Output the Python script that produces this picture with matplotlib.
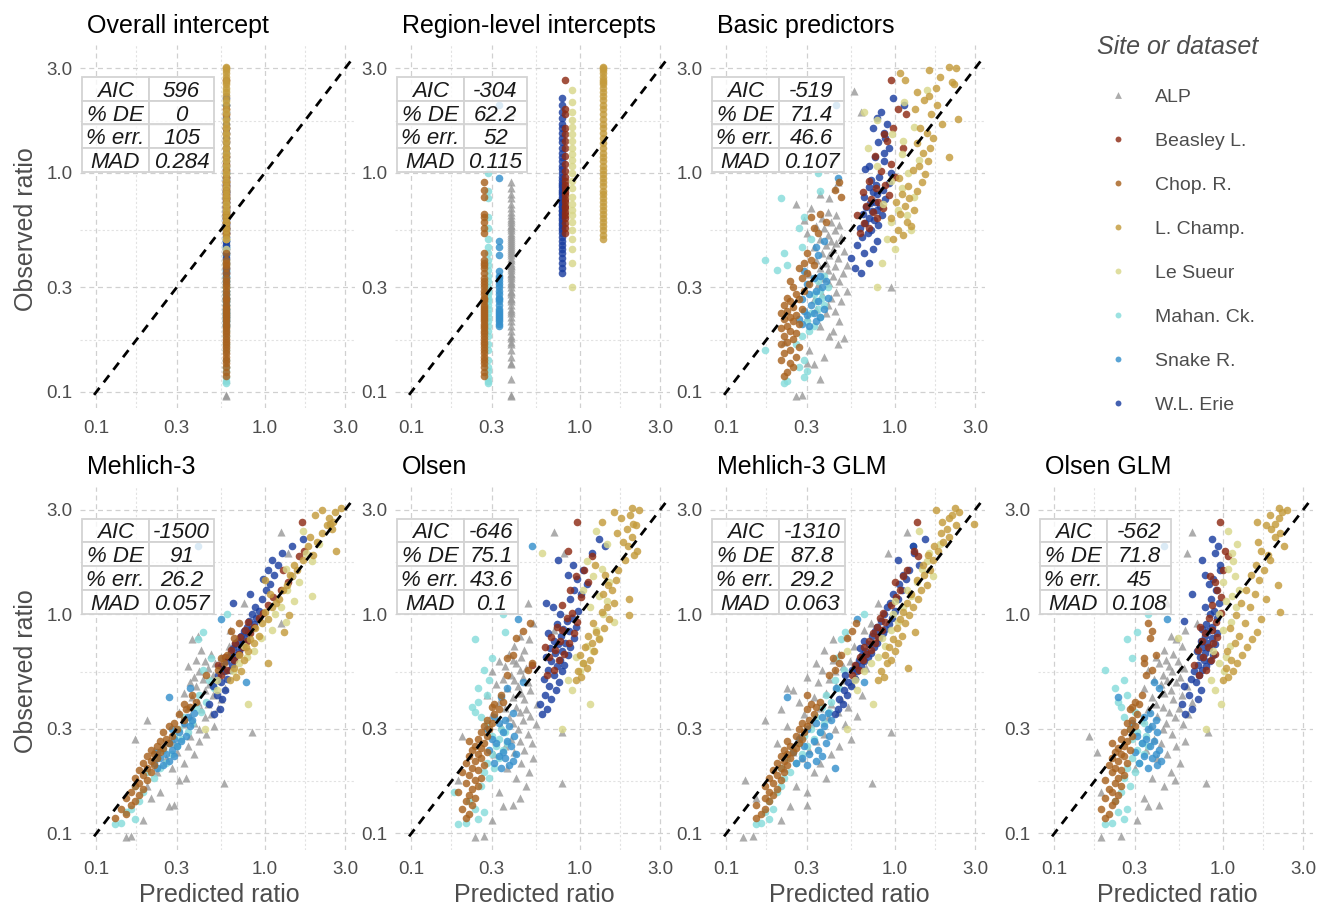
import numpy as np
import matplotlib.pyplot as plt
from matplotlib.patches import Rectangle
from matplotlib.ticker import FixedLocator, NullFormatter

plt.rcParams['font.family'] = ['Liberation Sans', 'DejaVu Sans']

# ---------------- data ----------------
sites = ['ALP', 'Beasley L.', 'Chop. R.', 'L. Champ.', 'Le Sueur',
         'Mahan. Ck.', 'Snake R.', 'W.L. Erie']
site_colors = ['#9a9a9a', '#8e2b14', '#a8621f', '#c49b3c', '#d8d78a',
               '#86dcdb', '#3690cc', '#1b3ea0']

panel_titles = ['Overall intercept', 'Region-level intercepts', 'Basic predictors',
                'Mehlich-3', 'Olsen', 'Mehlich-3 GLM', 'Olsen GLM']

stat_names = ['AIC', '% DE', '% err.', 'MAD']
aic = ['596', '-304', '-519', '-1500', '-646', '-1310', '-562']
pct_de = ['0', '62.2', '71.4', '91', '75.1', '87.8', '71.8']
pct_err = ['105', '52', '46.6', '26.2', '43.6', '29.2', '45']
mad = ['0.284', '0.115', '0.107', '0.057', '0.1', '0.063', '0.108']

tick_vals = [0.1, 0.3, 1.0, 3.0]
tick_labels = ['0.1', '0.3', '1.0', '3.0']

# predictions of the two intercept-only models
overall_intercept = 0.59
region_intercepts = [0.39, 0.815, 0.27, 1.37, 0.905, 0.285, 0.33, 0.78]

# observed ratios, by site
obs_alp = [0.096, 0.097, 0.115, 0.134, 0.135, 0.145, 0.155, 0.165, 0.17, 0.176,
           0.18, 0.19, 0.20, 0.21, 0.22, 0.23, 0.235, 0.24, 0.25, 0.26,
           0.265, 0.27, 0.28, 0.285, 0.29, 0.30, 0.31, 0.315, 0.32, 0.33,
           0.34, 0.345, 0.35, 0.36, 0.37, 0.375, 0.38, 0.39, 0.40, 0.41,
           0.42, 0.43, 0.44, 0.45, 0.46, 0.47, 0.48, 0.49, 0.50, 0.51,
           0.52, 0.53, 0.55, 0.56, 0.57, 0.58, 0.60, 0.61, 0.62, 0.64,
           0.66, 0.69, 0.72, 0.77, 0.80, 0.85, 0.91, 1.13, 1.9, 2.37]
obs_beasley = [0.53, 0.56, 0.59, 0.62, 0.64, 0.66, 0.69, 0.71, 0.74, 0.76,
               0.79, 0.82, 0.85, 0.88, 0.92, 0.96, 1.02, 1.1, 1.2, 1.3,
               1.4, 1.5, 1.6, 1.85, 1.95, 2.65]
obs_chop = [0.118, 0.123, 0.13, 0.135, 0.14, 0.145, 0.15, 0.155, 0.16, 0.165,
            0.17, 0.175, 0.18, 0.185, 0.19, 0.195, 0.20, 0.205, 0.21, 0.215,
            0.22, 0.225, 0.23, 0.235, 0.24, 0.245, 0.25, 0.26, 0.265, 0.27,
            0.28, 0.29, 0.30, 0.31, 0.32, 0.33, 0.35, 0.37, 0.38, 0.39,
            0.40, 0.43, 0.53, 0.56, 0.60, 0.63, 0.65, 0.78, 0.84, 0.91]
obs_champ = [0.50, 0.52, 0.55, 0.57, 0.60, 0.62, 0.65, 0.68, 0.71, 0.74,
             0.77, 0.80, 0.83, 0.87, 0.91, 0.95, 0.99, 1.03, 1.08, 1.13,
             1.18, 1.24, 1.30, 1.37, 1.44, 1.52, 1.60, 1.68, 1.77, 1.86,
             1.95, 2.05, 2.15, 2.25, 2.35, 2.45, 2.55, 2.60, 2.65, 2.75,
             2.85, 2.95, 3.00, 3.05]
obs_sueur = [0.30, 0.39, 0.45, 0.50, 0.55, 0.60, 0.64, 0.68, 0.72, 0.78,
             0.85, 0.92, 1.0, 1.08, 1.15, 1.22, 1.30, 1.40, 1.50, 1.62,
             1.75, 1.90, 2.10, 2.40]
obs_mahan = [0.11, 0.112, 0.117, 0.125, 0.13, 0.14, 0.155, 0.165, 0.18, 0.19,
             0.20, 0.21, 0.22, 0.23, 0.24, 0.25, 0.26, 0.27, 0.28, 0.29,
             0.30, 0.32, 0.34, 0.36, 0.38, 0.40, 0.43, 0.46, 0.50, 0.56,
             0.63, 0.77, 0.83, 1.0]
obs_snake = [0.20, 0.205, 0.21, 0.215, 0.22, 0.225, 0.23, 0.235, 0.24, 0.25,
             0.26, 0.265, 0.27, 0.28, 0.29, 0.30, 0.31, 0.32, 0.33, 0.34,
             0.355, 0.42, 0.46, 0.49, 0.95, 2.05]
obs_erie = [0.35, 0.37, 0.39, 0.41, 0.43, 0.45, 0.47, 0.49, 0.51, 0.53,
            0.55, 0.56, 0.58, 0.59, 0.61, 0.62, 0.64, 0.65, 0.67, 0.68,
            0.70, 0.71, 0.73, 0.74, 0.76, 0.78, 0.80, 0.82, 0.84, 0.86,
            0.88, 0.90, 0.93, 0.96, 1.0, 1.04, 1.08, 1.13, 1.18, 1.24,
            1.3, 1.38, 1.45, 1.52, 1.6, 1.68, 1.78, 1.9, 2.05, 2.2]

# predicted ratios: Basic predictors
basic_alp = [0.26, 0.28, 0.36, 0.33, 0.30, 0.38, 0.31, 0.46, 0.22, 0.50,
             0.41, 0.43, 0.36, 0.47, 0.30, 0.39, 0.44, 0.34, 0.40, 0.48,
             0.33, 0.42, 0.37, 0.45, 0.52, 0.95, 0.35, 0.41, 0.47, 0.38,
             0.43, 0.31, 0.49, 0.40, 0.36, 0.44, 0.52, 0.39, 0.34, 0.46,
             0.41, 0.37, 0.50, 0.43, 0.33, 0.39, 0.45, 0.42, 0.36, 0.48,
             0.40, 0.30, 0.44, 0.38, 0.34, 0.47, 0.42, 0.29, 0.37, 0.45,
             0.40, 0.32, 0.26, 0.41, 0.36, 0.44, 0.46, 0.42, 0.63, 0.57]
basic_beasley = [0.62, 0.70, 0.66, 0.78, 0.60, 0.74, 0.85, 0.68, 0.80, 0.72,
                 0.92, 0.65, 0.77, 0.88, 0.70, 1.00, 0.83, 0.95, 0.76, 1.12,
                 0.90, 0.86, 0.98, 1.16, 1.05, 0.95]
basic_chop = [0.22, 0.23, 0.25, 0.24, 0.21, 0.26, 0.22, 0.24, 0.27, 0.21,
              0.23, 0.25, 0.22, 0.26, 0.24, 0.21, 0.23, 0.27, 0.25, 0.22,
              0.24, 0.26, 0.21, 0.23, 0.28, 0.25, 0.22, 0.24, 0.27, 0.23,
              0.26, 0.29, 0.25, 0.31, 0.24, 0.28, 0.30, 0.27, 0.33, 0.29,
              0.32, 0.30, 0.35, 0.33, 0.39, 0.32, 0.36, 0.48, 0.44, 0.47]
basic_champ = [0.98, 1.12, 1.05, 1.25, 1.18, 0.95, 1.08, 1.30, 1.15, 1.02,
               1.22, 1.10, 1.35, 1.20, 1.45, 1.06, 1.52, 1.28, 1.40, 1.58,
               2.10, 1.48, 1.62, 1.36, 1.70, 1.55, 1.42, 1.90, 2.37, 1.65,
               1.32, 1.78, 1.50, 1.60, 1.35, 1.75, 2.25, 2.20, 1.15, 1.85,
               1.07, 1.60, 2.30, 2.10]
basic_sueur = [0.79, 0.84, 1.00, 0.90, 1.25, 0.95, 1.18, 1.05, 0.85, 1.30,
               1.10, 0.95, 1.20, 0.78, 1.40, 1.10, 0.69, 1.12, 0.96, 1.30,
               0.78, 0.66, 1.14, 1.56]
basic_mahan = [0.22, 0.23, 0.29, 0.30, 0.27, 0.29, 0.17, 0.26, 0.28, 0.31,
               0.33, 0.30, 0.36, 0.32, 0.35, 0.38, 0.34, 0.37, 0.33, 0.36,
               0.40, 0.35, 0.38, 0.20, 0.23, 0.17, 0.22, 0.28, 0.32, 0.27,
               0.29, 0.21, 0.36, 0.35]
basic_snake = [0.31, 0.28, 0.34, 0.27, 0.36, 0.30, 0.33, 0.29, 0.38, 0.32,
               0.35, 0.28, 0.40, 0.31, 0.34, 0.37, 0.30, 0.39, 0.33, 0.36,
               0.29, 0.35, 0.34, 0.38, 0.46, 0.45]
basic_erie = [0.63, 0.58, 0.70, 0.55, 0.66, 0.74, 0.60, 0.78, 0.64, 0.69,
              0.72, 0.62, 0.80, 0.67, 0.75, 0.70, 0.84, 0.65, 0.73, 0.78,
              0.68, 0.82, 0.71, 0.76, 0.88, 0.66, 0.79, 0.74, 0.85, 0.70,
              0.77, 0.92, 0.72, 0.81, 0.95, 0.67, 0.70, 0.86, 0.76, 0.86,
              0.93, 0.80, 0.88, 0.87, 0.74, 0.90, 0.78, 0.83, 1.14, 0.98]

# predicted ratios: Mehlich-3
m3_alp = [0.15, 0.16, 0.19, 0.27, 0.29, 0.21, 0.24, 0.20, 0.57, 0.31,
          0.34, 0.23, 0.28, 0.33, 0.26, 0.38, 0.30, 0.22, 0.35, 0.29,
          0.41, 0.17, 0.36, 0.45, 0.84, 0.41, 0.50, 0.33, 0.38, 0.20,
          0.44, 0.36, 0.48, 0.31, 0.42, 0.53, 0.35, 0.46, 0.40, 0.55,
          0.37, 0.49, 0.33, 0.44, 0.58, 0.39, 0.47, 0.36, 0.52, 0.43,
          0.38, 0.49, 0.41, 0.57, 0.46, 0.35, 0.51, 0.44, 0.39, 0.55,
          0.48, 0.42, 0.61, 0.37, 0.40, 0.62, 1.25, 0.75, 1.37, 1.25]
m3_beasley = [0.55, 0.60, 0.53, 0.66, 0.58, 0.70, 0.63, 0.74, 0.67, 0.78,
              0.71, 0.82, 0.76, 0.86, 0.80, 0.92, 0.98, 1.04, 1.12, 1.25,
              1.38, 1.45, 1.28, 1.60, 1.72, 1.67]
m3_chop = [0.13, 0.15, 0.14, 0.16, 0.17, 0.15, 0.18, 0.16, 0.19, 0.17,
           0.18, 0.20, 0.17, 0.19, 0.21, 0.18, 0.20, 0.22, 0.19, 0.21,
           0.23, 0.20, 0.22, 0.24, 0.21, 0.25, 0.23, 0.27, 0.24, 0.26,
           0.28, 0.25, 0.30, 0.27, 0.29, 0.33, 0.31, 0.34, 0.36, 0.33,
           0.39, 0.37, 0.45, 0.53, 0.57, 0.55, 0.60, 0.66, 0.63, 0.70]
m3_champ = [0.62, 0.68, 0.72, 0.66, 1.04, 0.75, 0.70, 0.80, 0.77, 0.86,
            0.82, 0.92, 1.30, 0.88, 0.97, 1.05, 1.40, 1.00, 1.10, 1.16,
            1.22, 1.08, 1.28, 1.35, 1.00, 1.42, 1.55, 1.50, 1.68, 1.95,
            2.65, 1.80, 2.05, 1.87, 2.20, 2.50, 2.35, 2.45, 2.55, 2.40,
            2.00, 2.60, 2.20, 2.85]
m3_sueur = [0.44, 0.80, 0.52, 0.52, 0.65, 0.70, 0.78, 0.86, 0.75, 0.95,
            1.10, 1.33, 1.15, 1.25, 1.50, 1.90, 1.35, 1.60, 1.45, 1.33,
            1.90, 1.75, 2.10, 1.70]
m3_mahan = [0.13, 0.14, 0.17, 0.15, 0.16, 0.18, 0.19, 0.17, 0.22, 0.20,
            0.24, 0.26, 0.23, 0.28, 0.25, 0.30, 0.27, 0.32, 0.29, 0.35,
            0.31, 0.37, 0.33, 0.42, 0.39, 0.45, 0.41, 0.50, 0.47, 0.43,
            0.48, 0.40, 0.43, 0.60]
m3_snake = [0.23, 0.25, 0.22, 0.27, 0.24, 0.29, 0.26, 0.23, 0.28, 0.30,
            0.27, 0.32, 0.29, 0.34, 0.31, 0.28, 0.36, 0.33, 0.37, 0.35,
            0.38, 0.27, 0.36, 0.77, 0.55, 0.40]
m3_erie = [0.50, 0.54, 0.47, 0.56, 0.52, 0.58, 0.49, 0.55, 0.60, 0.53,
           0.57, 0.62, 0.55, 0.64, 0.59, 0.66, 0.61, 0.68, 0.63, 0.70,
           0.65, 0.72, 0.67, 0.74, 0.69, 0.77, 0.72, 0.80, 0.75, 0.83,
           0.78, 0.86, 0.81, 0.89, 0.84, 0.93, 0.88, 0.65, 0.97, 0.82,
           1.02, 1.08, 0.98, 1.14, 1.05, 1.20, 1.10, 1.26, 1.45, 1.70]

# predicted ratios: Olsen
olsen_alp = [0.24, 0.27, 0.30, 0.35, 0.40, 0.44, 0.33, 0.48, 0.78, 0.19,
             0.42, 0.50, 0.37, 0.45, 0.53, 0.31, 0.41, 0.47, 0.36, 0.52,
             0.44, 0.39, 0.20, 0.49, 0.78, 0.43, 0.34, 0.55, 0.40, 0.46,
             0.38, 0.51, 0.30, 0.44, 0.48, 0.36, 0.42, 0.56, 0.33, 0.47,
             0.40, 0.28, 0.45, 0.51, 0.37, 0.43, 0.32, 0.49, 0.41, 0.35,
             0.46, 0.39, 0.30, 0.44, 0.48, 0.36, 0.42, 0.33, 0.40, 0.45,
             0.38, 0.47, 0.41, 0.50, 0.44, 0.70, 0.53, 0.49, 0.81, 0.70]
olsen_beasley = [0.64, 0.70, 0.52, 0.75, 0.66, 0.81, 0.71, 0.62, 0.86, 0.76,
                 0.68, 0.92, 0.79, 0.73, 0.97, 0.84, 0.90, 0.78, 1.02, 0.88,
                 1.12, 0.95, 1.06, 1.18, 0.85, 0.97]
olsen_chop = [0.21, 0.22, 0.20, 0.23, 0.21, 0.24, 0.22, 0.19, 0.23, 0.25,
              0.21, 0.24, 0.26, 0.22, 0.20, 0.25, 0.23, 0.27, 0.21, 0.24,
              0.26, 0.22, 0.25, 0.28, 0.23, 0.26, 0.24, 0.27, 0.22, 0.25,
              0.28, 0.26, 0.29, 0.27, 0.30, 0.28, 0.31, 0.33, 0.30, 0.31,
              0.35, 0.34, 0.37, 0.49, 0.52, 0.37, 0.40, 0.42, 0.46, 0.51]
olsen_champ = [0.95, 1.02, 0.98, 1.10, 1.05, 1.15, 1.00, 1.22, 1.08, 1.18,
               1.30, 1.12, 1.25, 1.40, 1.20, 1.50, 1.97, 1.35, 1.45, 1.60,
               1.97, 1.38, 1.55, 1.48, 1.65, 1.42, 1.70, 1.23, 1.85, 2.10,
               2.20, 1.95, 1.80, 2.05, 1.66, 1.90, 2.15, 2.06, 1.35, 1.75,
               2.00, 1.60, 2.25, 2.04]
olsen_sueur = [0.78, 1.15, 0.90, 0.85, 1.00, 1.05, 0.95, 1.20, 1.10, 1.30,
               1.25, 1.60, 1.38, 1.15, 1.45, 1.30, 1.05, 1.50, 1.20, 1.35,
               1.10, 0.60, 1.45, 1.25]
olsen_mahan = [0.19, 0.21, 0.25, 0.27, 0.24, 0.22, 0.18, 0.26, 0.29, 0.27,
               0.31, 0.28, 0.33, 0.30, 0.35, 0.32, 0.37, 0.33, 0.30, 0.36,
               0.34, 0.28, 0.26, 0.24, 0.23, 0.25, 0.28, 0.25, 0.29, 0.27,
               0.30, 0.24, 0.36, 0.35]
olsen_snake = [0.34, 0.38, 0.31, 0.40, 0.36, 0.33, 0.42, 0.35, 0.29, 0.39,
               0.32, 0.37, 0.30, 0.41, 0.35, 0.28, 0.38, 0.33, 0.36, 0.31,
               0.40, 0.34, 0.37, 0.46, 0.43, 0.52]
olsen_erie = [0.60, 0.64, 0.58, 0.68, 0.62, 0.72, 0.66, 0.75, 0.61, 0.70,
              0.78, 0.65, 0.73, 0.81, 0.68, 0.76, 0.63, 0.85, 0.71, 0.79,
              0.67, 0.88, 0.74, 0.82, 0.70, 0.92, 0.77, 0.65, 0.86, 0.80,
              0.95, 0.73, 0.84, 0.90, 0.76, 0.98, 0.69, 0.63, 0.88, 1.02,
              0.93, 1.10, 0.97, 0.85, 1.05, 0.91, 0.74, 1.18, 1.42, 1.30]

# predicted ratios: Mehlich-3 GLM
m3glm_alp = [0.125, 0.145, 0.21, 0.24, 0.30, 0.15, 0.30, 0.26, 0.73, 0.13,
             0.39, 0.33, 0.22, 0.36, 0.28, 0.42, 0.25, 0.31, 0.47, 0.20,
             0.34, 0.55, 0.27, 0.38, 0.95, 0.44, 0.23, 0.51, 0.32, 0.17,
             0.40, 0.60, 0.29, 0.46, 0.21, 0.36, 0.53, 0.42, 0.27, 0.48,
             0.33, 0.64, 0.39, 0.25, 0.23, 0.45, 0.56, 0.35, 0.50, 0.41,
             0.30, 0.58, 0.44, 0.37, 0.68, 0.49, 0.34, 0.54, 0.43, 0.62,
             0.47, 0.38, 0.57, 0.43, 0.52, 0.66, 0.72, 0.80, 0.91, 1.18]
m3glm_beasley = [0.56, 0.61, 0.58, 0.65, 0.62, 0.68, 0.72, 0.66, 0.76, 0.70,
                 0.80, 0.74, 0.84, 0.78, 0.88, 0.82, 0.85, 0.95, 1.02, 1.07,
                 1.00, 1.12, 1.18, 1.37, 1.30, 1.36]
m3glm_chop = [0.15, 0.16, 0.17, 0.15, 0.18, 0.17, 0.19, 0.18, 0.20, 0.17,
              0.19, 0.21, 0.18, 0.20, 0.22, 0.19, 0.21, 0.23, 0.20, 0.22,
              0.24, 0.21, 0.23, 0.25, 0.22, 0.26, 0.24, 0.27, 0.23, 0.28,
              0.26, 0.29, 0.27, 0.30, 0.28, 0.31, 0.33, 0.30, 0.34, 0.32,
              0.36, 0.30, 0.41, 0.44, 0.47, 0.43, 0.48, 0.52, 0.56, 0.59]
m3glm_champ = [0.80, 0.86, 0.83, 1.20, 0.90, 0.95, 0.88, 1.00, 0.93, 1.05,
               0.98, 1.10, 1.32, 1.03, 1.15, 1.08, 1.22, 1.12, 1.28, 1.18,
               1.38, 1.25, 1.44, 1.55, 1.35, 1.50, 1.62, 1.48, 1.70, 1.58,
               1.80, 1.72, 1.95, 2.10, 1.88, 2.05, 2.30, 2.95, 1.90, 2.10,
               2.20, 2.40, 1.77, 2.29]
m3glm_sueur = [0.52, 0.74, 0.60, 0.58, 0.66, 0.72, 0.80, 0.52, 0.88, 0.84,
               0.95, 1.05, 0.98, 1.12, 1.00, 1.25, 1.18, 1.35, 1.70, 1.45,
               1.55, 1.60, 1.85, 1.40]
m3glm_mahan = [0.15, 0.16, 0.18, 0.17, 0.19, 0.18, 0.20, 0.21, 0.22, 0.24,
               0.21, 0.26, 0.23, 0.28, 0.25, 0.30, 0.27, 0.33, 0.29, 0.36,
               0.32, 0.38, 0.34, 0.41, 0.37, 0.42, 0.39, 0.47, 0.44, 0.50,
               0.45, 0.48, 0.51, 0.66]
m3glm_snake = [0.44, 0.30, 0.26, 0.34, 0.28, 0.37, 0.31, 0.25, 0.35, 0.29,
               0.39, 0.33, 0.27, 0.41, 0.36, 0.30, 0.38, 0.34, 0.42, 0.37,
               0.40, 0.23, 0.45, 0.66, 0.60, 1.29]
m3glm_erie = [0.44, 0.46, 0.49, 0.47, 0.52, 0.50, 0.55, 0.53, 0.58, 0.51,
              0.60, 0.56, 0.63, 0.59, 0.66, 0.61, 0.69, 0.64, 0.72, 0.67,
              0.62, 0.75, 0.70, 0.78, 0.66, 0.81, 0.73, 0.85, 0.76, 0.88,
              0.79, 0.92, 0.83, 0.96, 0.87, 1.00, 0.90, 0.94, 1.05, 0.98,
              1.10, 1.06, 1.16, 1.12, 1.22, 1.40, 1.04, 1.30, 1.29, 1.51]

# predicted ratios: Olsen GLM
olsenglm_alp = [0.19, 0.25, 0.31, 0.36, 0.42, 0.34, 0.19, 0.45, 0.80, 0.52,
                0.38, 0.49, 0.30, 0.56, 0.41, 0.47, 0.18, 0.35, 0.53, 0.43,
                0.60, 0.39, 0.16, 0.50, 0.82, 0.44, 0.37, 0.58, 0.46, 0.33,
                0.52, 0.41, 0.62, 0.48, 0.36, 0.55, 0.44, 0.40, 0.66, 0.51,
                0.38, 0.57, 0.45, 0.49, 0.34, 0.61, 0.43, 0.53, 0.47, 0.39,
                0.56, 0.44, 0.50, 0.36, 0.59, 0.48, 0.42, 0.54, 0.46, 0.40,
                0.51, 0.45, 0.57, 0.53, 0.49, 0.60, 0.70, 0.47, 0.61, 0.66]
olsenglm_beasley = [0.72, 0.80, 0.68, 0.85, 0.76, 0.90, 0.71, 0.82, 0.88, 0.75,
                    0.93, 0.79, 0.86, 0.73, 0.91, 0.83, 0.98, 0.87, 0.98, 0.92,
                    0.90, 0.84, 1.00, 1.08, 1.03, 0.96]
olsenglm_chop = [0.20, 0.21, 0.19, 0.22, 0.23, 0.20, 0.24, 0.22, 0.21, 0.25,
                 0.23, 0.20, 0.24, 0.26, 0.22, 0.25, 0.23, 0.21, 0.27, 0.24,
                 0.22, 0.26, 0.25, 0.23, 0.28, 0.24, 0.26, 0.22, 0.27, 0.25,
                 0.29, 0.26, 0.28, 0.30, 0.27, 0.29, 0.31, 0.28, 0.29, 0.32,
                 0.30, 0.33, 0.35, 0.38, 0.34, 0.34, 0.40, 0.37, 0.38, 0.36]
olsenglm_champ = [1.00, 1.08, 1.15, 1.04, 1.22, 1.12, 1.30, 1.06, 1.40, 1.18,
                  1.50, 1.25, 1.60, 1.10, 1.35, 1.70, 1.20, 2.20, 1.45, 1.28,
                  1.80, 1.55, 1.38, 2.12, 1.65, 1.48, 1.75, 1.58, 1.90, 1.85,
                  1.70, 2.30, 1.62, 2.05, 2.20, 1.95, 1.80, 2.05, 1.60, 2.15,
                  1.90, 2.25, 2.40, 2.17]
olsenglm_sueur = [0.80, 0.98, 0.90, 0.85, 1.02, 0.95, 1.05, 0.88, 1.10, 0.54,
                  1.00, 1.12, 0.95, 1.20, 1.05, 1.14, 1.25, 1.00, 1.18, 1.08,
                  1.15, 1.14, 1.22, 1.08]
olsenglm_mahan = [0.20, 0.22, 0.26, 0.24, 0.27, 0.23, 0.25, 0.28, 0.26, 0.30,
                  0.27, 0.32, 0.29, 0.34, 0.31, 0.36, 0.33, 0.29, 0.35, 0.31,
                  0.28, 0.34, 0.26, 0.30, 0.25, 0.24, 0.27, 0.23, 0.26, 0.20,
                  0.29, 0.27, 0.31, 0.36]
olsenglm_snake = [0.36, 0.41, 0.32, 0.43, 0.38, 0.34, 0.40, 0.30, 0.42, 0.37,
                  0.33, 0.39, 0.35, 0.31, 0.41, 0.36, 0.38, 0.29, 0.40, 0.34,
                  0.37, 0.24, 0.42, 0.39, 0.47, 0.45]
olsenglm_erie = [0.60, 0.66, 0.57, 0.71, 0.63, 0.74, 0.59, 0.69, 0.65, 0.72,
                 0.68, 0.75, 0.80, 0.71, 0.84, 0.77, 0.73, 0.88, 0.79, 0.70,
                 0.83, 0.76, 0.90, 0.81, 0.74, 0.86, 0.78, 0.92, 0.82, 0.75,
                 0.87, 0.80, 0.59, 0.93, 0.84, 0.89, 0.79, 0.95, 0.85, 0.66,
                 0.91, 0.83, 0.88, 0.78, 0.97, 0.96, 0.75, 0.90, 0.94, 0.86]

# ---------------- assemble ----------------
observed = [obs_alp, obs_beasley, obs_chop, obs_champ, obs_sueur,
            obs_mahan, obs_snake, obs_erie]
predicted = [
    [np.full(len(o), overall_intercept) for o in observed],
    [np.full(len(o), r) for o, r in zip(observed, region_intercepts)],
    [basic_alp, basic_beasley, basic_chop, basic_champ, basic_sueur,
     basic_mahan, basic_snake, basic_erie],
    [m3_alp, m3_beasley, m3_chop, m3_champ, m3_sueur, m3_mahan, m3_snake, m3_erie],
    [olsen_alp, olsen_beasley, olsen_chop, olsen_champ, olsen_sueur,
     olsen_mahan, olsen_snake, olsen_erie],
    [m3glm_alp, m3glm_beasley, m3glm_chop, m3glm_champ, m3glm_sueur,
     m3glm_mahan, m3glm_snake, m3glm_erie],
    [olsenglm_alp, olsenglm_beasley, olsenglm_chop, olsenglm_champ, olsenglm_sueur,
     olsenglm_mahan, olsenglm_snake, olsenglm_erie],
]
stats = list(zip(aic, pct_de, pct_err, mad))

draw_order = [0, 5, 6, 7, 1, 4, 2, 3]   # which site is drawn on top of which

# ---------------- layout (pixels) ----------------
W, H = 1317, 908
pw, ph = 275, 363
panel_pos = [(80, 45), (395, 45), (710, 45),
             (80, 486.5), (395, 486.5), (710, 486.5), (1038, 486.5)]
col2_px = [65, 63, 65, 65, 54, 66, 64]
minor_vals = [0.1732, 0.5477, 1.732]
txt_gray = '#4d4d4d'

fig = plt.figure(figsize=(W / 100, H / 100), dpi=100)

for k, (left, top) in enumerate(panel_pos):
    ax = fig.add_axes([left / W, 1 - (top + ph) / H, pw / W, ph / H])
    ax.set_xscale('log')
    ax.set_yscale('log')
    ax.set_xlim(0.08, 3.44)
    ax.set_ylim(0.0845, 3.84)
    for a in (ax.xaxis, ax.yaxis):
        a.set_major_locator(FixedLocator(tick_vals))
        a.set_minor_locator(FixedLocator(minor_vals))
        a.set_minor_formatter(NullFormatter())
    ax.set_xticklabels(tick_labels)
    ax.set_yticklabels(tick_labels)
    ax.tick_params(which='both', length=0, labelsize=13.5, labelcolor=txt_gray)
    ax.tick_params(axis='x', pad=8.5)
    ax.tick_params(axis='y', pad=5.5)
    for s in ax.spines.values():
        s.set_visible(False)
    ax.grid(which='major', color='#d0d0d0', linestyle=(0, (4, 3)), linewidth=0.9)
    ax.grid(which='minor', color='#e2e2e2', linestyle=(0, (2, 2)), linewidth=0.8)
    ax.set_axisbelow(True)

    for i in draw_order:
        ax.scatter(predicted[k][i], observed[i], s=34 if i == 0 else 30,
                   marker='^' if i == 0 else 'o', color=site_colors[i],
                   alpha=0.82, linewidths=0, zorder=2)

    ax.plot([0.097, 3.25], [0.097, 3.25], color='black', lw=2.0,
            linestyle=(0, (3.2, 2.5)), zorder=3)

    ax.text(7 / pw, 1 + 12 / ph, panel_titles[k], transform=ax.transAxes,
            ha='left', va='baseline', fontsize=18, color='black')

    # stats table
    rh = 23.75 / ph
    ttop = 1 - 32 / ph
    x_start = 2 / pw
    w1 = 67 / pw
    w2 = col2_px[k] / pw
    for r, (name, val) in enumerate(zip(stat_names, stats[k])):
        y0 = ttop - (r + 1) * rh
        for x0, w, txt in ((x_start, w1, name), (x_start + w1, w2, val)):
            ax.add_patch(Rectangle((x0, y0), w, rh, transform=ax.transAxes,
                                   facecolor=(1, 1, 1, 0.78), edgecolor='#d3d3d3',
                                   lw=1.3, zorder=5, clip_on=False))
            ax.text(x0 + w / 2, y0 + rh / 2, txt, transform=ax.transAxes,
                    ha='center', va='center_baseline', fontsize=16,
                    style='italic', color='#1a1a1a', zorder=6)

# overlay in pixel coordinates for shared labels and legend
lax = fig.add_axes([0, 0, 1, 1], zorder=10)
lax.set_xlim(0, W)
lax.set_ylim(H, 0)
lax.axis('off')

for top in (45, 486.5):
    lax.text(26, top + ph / 2 + 3, 'Observed ratio', rotation=90, ha='center',
             va='center', fontsize=18, color=txt_gray)
for left, top in panel_pos[3:]:
    lax.text(left + pw / 2 + 2, 902, 'Predicted ratio', ha='center', va='baseline',
             fontsize=18, color=txt_gray)

lax.text(1097, 54, 'Site or dataset', ha='left', va='baseline', fontsize=18,
         style='italic', color=txt_gray)
for i, name in enumerate(sites):
    y = 95 + 44 * i
    lax.scatter([1117.5], [y], s=24 if i == 0 else 18, marker='^' if i == 0 else 'o',
                color=site_colors[i], alpha=0.82, linewidths=0)
    lax.text(1155, y, name, ha='left', va='center_baseline', fontsize=14,
             color=txt_gray)

fig.savefig('out.png', dpi=100)
